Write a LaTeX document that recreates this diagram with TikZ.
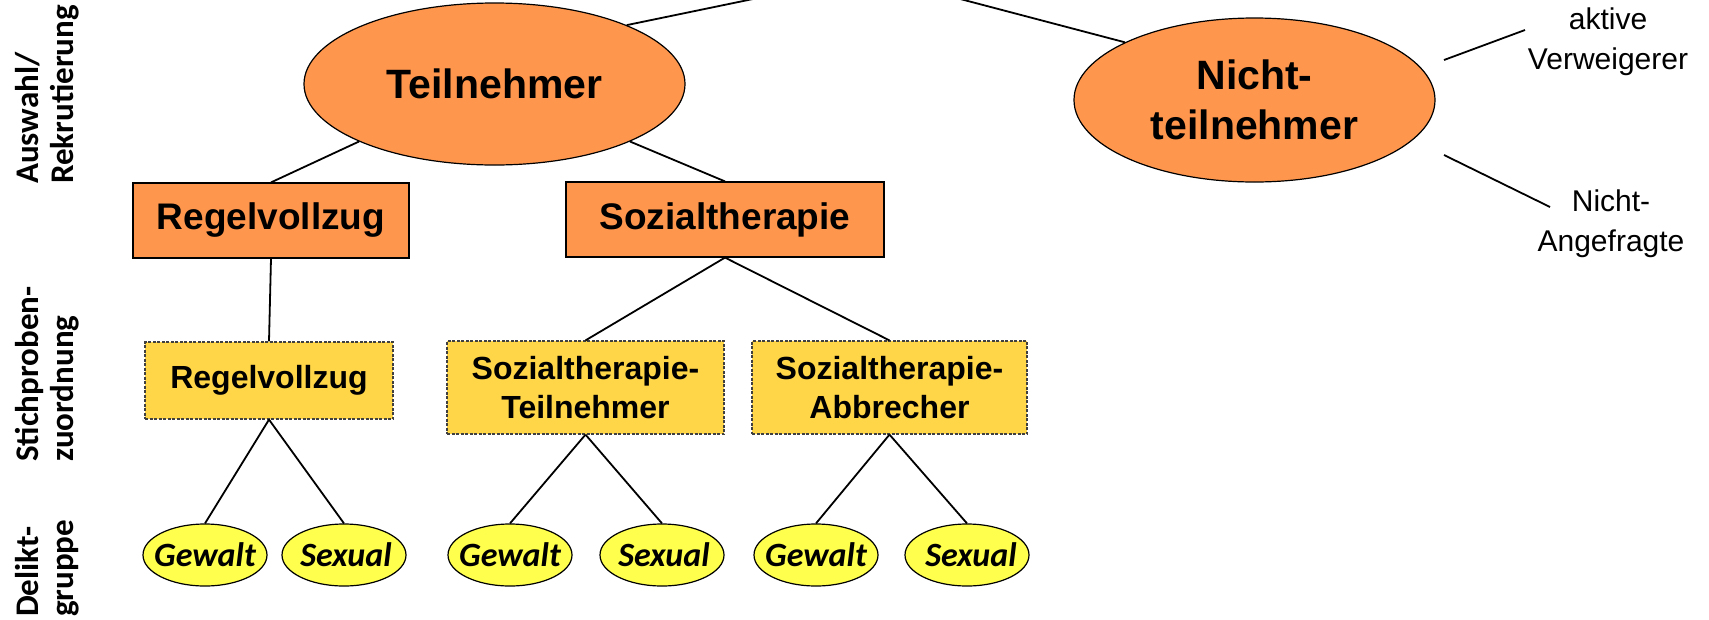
\documentclass[tikz,border=0pt]{standalone}
\usepackage{fontspec}
\setmainfont{Liberation Sans}
\newfontfamily\calib{Carlito}
\usetikzlibrary{shapes.geometric}
\definecolor{orng}{RGB}{255,150,77}
\definecolor{gold}{RGB}{255,214,72}
\definecolor{ylw}{RGB}{255,255,77}
\begin{document}
\begin{tikzpicture}[x=1pt,y=-1pt,
  conn/.style={line width=1.8pt},
  bigell/.style={ellipse, draw, line width=1.2pt, fill=orng, inner sep=0pt, font=\fontsize{41}{50}\selectfont\bfseries, align=center},
  obox/.style={rectangle, draw, line width=1.2pt, fill=orng, inner sep=0pt, minimum height=75pt, font=\fontsize{37}{44}\selectfont\bfseries},
  ybox/.style={rectangle, draw=black!75, dash pattern=on 3pt off 1.5pt, line width=1.2pt, fill=gold, inner sep=0pt, font=\fontsize{32}{39}\selectfont\bfseries, align=center},
  smell/.style={ellipse, draw, line width=1.2pt, fill=ylw, inner sep=0pt, minimum width=124pt, minimum height=62pt, font=\calib\fontsize{34}{38}\selectfont\bfseries\itshape},
  sidelab/.style={font=\calib\fontsize{33}{35}\selectfont\bfseries, rotate=90, anchor=west, align=left, inner sep=0pt},
  plainlab/.style={font=\fontsize{30}{40}\selectfont, align=center, inner sep=0pt}
]
\useasboundingbox (0,0) rectangle (1709,619);

% side labels
\node[sidelab] (L1) at (47,184) {Auswahl/\\Rekrutierung};
\node[sidelab] (L2) at (47,462) {Stichproben-\\zuordnung};
\node[sidelab] (L3) at (47,617) {Delikt-\\gruppe};

% top level
\node[bigell, minimum width=381pt, minimum height=162pt] (T) at (494.5,84) {Teilnehmer};
\node[bigell, minimum width=361pt, minimum height=164pt] (N) at (1254.5,100) {Nicht-\\teilnehmer};
\coordinate (apex) at (869,-25);

% second level
\node[obox, minimum width=276pt] (RO) at (271,220.5) {Regelvollzug};
\node[obox, minimum width=318pt] (SO) at (725,219.5) {Sozialtherapie};

% third level
\node[ybox, minimum width=248pt, minimum height=77pt] (RY) at (269,380.5) {Regelvollzug};
\node[ybox, minimum width=277pt, minimum height=93pt] (ST) at (585.5,387.5) {Sozialtherapie-\\Teilnehmer};
\node[ybox, minimum width=275pt, minimum height=93pt] (SA) at (889.5,387.5) {Sozialtherapie-\\Abbrecher};

% fourth level
\node[smell] (RG) at (205,555) {\makebox[0pt]{Gewalt}};
\node[smell] (RS) at (344,555) {\makebox[0pt]{\hspace{4pt}Sexual}};
\node[smell] (TG) at (510,555) {\makebox[0pt]{Gewalt}};
\node[smell] (TS) at (662,555) {\makebox[0pt]{\hspace{4pt}Sexual}};
\node[smell] (AG) at (816,555) {\makebox[0pt]{Gewalt}};
\node[smell] (AS) at (967,555) {\makebox[0pt]{\hspace{8pt}Sexual}};

% right labels
\node[plainlab] (AV) at (1608,42) {aktive\\Verweigerer};
\node[plainlab] (NA) at (1611,224) {Nicht-\\Angefragte};
\coordinate (v1) at (1444,60);
\coordinate (v2) at (1525,30);
\coordinate (a1) at (1444,155);
\coordinate (a2) at (1550,207);

% connectors
\draw[conn] (T.24) -- (apex) -- (N.156);
\draw[conn] (T.203) -- (RO.north);
\draw[conn] (T.337) -- (SO.north);
\draw[conn] (RO.south) -- (RY.north);
\draw[conn] (SO.south) -- (ST.north);
\draw[conn] (SO.south) -- (SA.north);
\draw[conn] (RY.south) -- (RG.north);
\draw[conn] (RY.south) -- (RS.north);
\draw[conn] (ST.south) -- (TG.north);
\draw[conn] (ST.south) -- (TS.north);
\draw[conn] (SA.south) -- (AG.north);
\draw[conn] (SA.south) -- (AS.north);
\draw[conn] (v1) -- (v2);
\draw[conn] (a1) -- (a2);
\end{tikzpicture}
\end{document}
